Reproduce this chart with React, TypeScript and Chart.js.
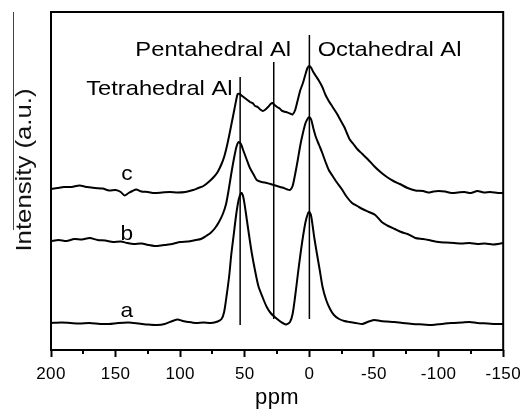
import React, { useEffect, useRef } from 'react';
import { Chart, registerables } from 'chart.js';

Chart.register(...registerables);

// ---- data (ppm = chemical shift, int = intensity in a.u.) ----
const ppmA = [200, 192, 185, 178, 170, 162, 155, 148, 140, 132, 125, 118, 112, 106, 102, 98, 94, 88, 82, 76, 71, 68, 66, 64, 62, 60.5, 58.6, 56.7, 54.8, 53.3, 52.3, 51, 49.5, 48.4, 46.5, 44.6, 42, 39.5, 36, 33, 30, 26.8, 23, 20, 18, 15, 13, 11, 9, 7, 5, 3, 1, 0, -1.5, -3.7, -6, -8, -10.2, -13, -16, -19, -23, -27, -31, -36, -41, -45, -50, -55, -60, -66, -72, -80, -88, -95, -102, -110, -118, -124, -130, -138, -144, -150];
const intA = [27, 27.5, 27, 26.5, 27, 26, 26, 27, 27.5, 26.5, 25.5, 25, 26, 29, 30.5, 29, 28, 27, 27.5, 27, 28.5, 31, 38, 55, 75, 95, 115, 135, 150, 156, 157, 152, 140, 130, 113, 97, 79, 64, 52, 43, 37, 33, 29, 26.5, 25.5, 28, 36, 54, 75, 95, 113, 128, 137, 138, 133, 113, 95, 80, 63, 50, 41, 35, 31, 29, 28, 27, 26, 28, 30, 29, 28.5, 28, 27, 26, 25.5, 25, 26, 27, 27.5, 28, 27, 26.5, 26, 26];

const ppmB = [200, 194, 188, 182, 176, 170, 164, 158, 152, 146, 141, 136, 130, 124, 118, 112, 106, 100, 94, 88, 84, 80, 76.5, 73, 70, 67, 64.5, 62.5, 60.5, 58.6, 56.5, 54.8, 53, 51, 48.4, 46, 43, 40.8, 37, 33, 29, 25, 21, 17, 15, 13, 11, 9, 7, 5, 3, 1, 0, -1.5, -3, -5, -7.5, -10, -12.5, -15, -18, -21, -25, -29, -33, -37, -41, -46, -51, -56, -61, -66, -71, -76, -82, -88, -94, -100, -106, -112, -118, -124, -130, -136, -142, -146, -150];
const intB = [109, 110, 109, 111, 110.5, 112, 110, 109.5, 108, 108.5, 107, 106, 106.5, 105, 104, 105, 106, 108, 108.5, 110, 111, 114, 117, 122, 128, 136, 146, 160, 176, 190, 203, 208, 206, 199, 190, 182, 175, 170, 168, 167, 165.5, 164, 162.5, 160.5, 160, 164, 176, 190, 205, 217, 227, 232, 233, 230, 222, 213, 205, 197, 188, 180, 174, 168, 161, 153, 147, 144, 141, 138, 135, 128, 124, 121, 118, 116, 112, 111, 109.5, 108, 107.5, 107, 106.5, 107, 106, 106.5, 105.5, 106, 107];

const ppmC = [200, 195, 190, 184, 178, 172, 166, 160, 155, 150, 146, 143, 140, 137, 134, 130, 125, 120, 114, 108, 102, 96, 90, 86, 82, 78, 74, 71, 68, 66, 64, 62, 60, 58, 56.5, 55.5, 54, 52, 50, 48, 46, 44, 42, 40, 38, 36, 34, 32, 30, 28.6, 27, 25, 23, 21, 18, 15, 13, 11, 9, 7, 5, 3, 1.5, 0.2, -1.5, -3, -5, -7.5, -10, -12.5, -15, -18, -21, -24, -27, -29, -31, -34, -37, -41, -45, -50, -55, -60, -65, -70, -76, -82, -88, -92, -96, -100, -105, -110, -115, -120, -125, -130, -135, -140, -146, -150];
const intC = [161, 162, 163, 163, 164.5, 163, 162, 161.5, 159.5, 160, 158, 154.5, 157, 159, 160.5, 158.5, 158, 157, 157.5, 158, 157.5, 158, 160, 162, 164, 168, 173, 178, 186, 193, 203, 215, 228, 241, 251, 256, 256, 254, 252, 250, 248, 247, 244, 243, 240.5, 239, 240.5, 243, 246, 247, 245, 243, 241.5, 239, 238, 236.5, 235.5, 240, 250, 260, 267, 276, 282, 284, 282, 278, 274, 269, 263, 255, 249, 243, 237, 230, 223, 217, 211, 206, 201, 196, 191, 184, 178, 173, 169, 166, 162, 159.5, 159, 157.5, 158.5, 159, 158.5, 157, 157.5, 158, 157, 159, 157.5, 158, 157, 157];

const curveNames = ['a', 'b', 'c'];
const curveLabelPpm = [141.3, 141.3, 141.3];
const curveLabelInt = [33, 110, 170];

const markerNames = ['Tetrahedral Al', 'Pentahedral Al', 'Octahedral Al'];
const markerPpm = [53.6, 27.6, 0];
const markerLow = [25, 31, 31];
const markerHigh = [273, 288, 315];
const markerLabelPpm = [172.8, 134.7, -6.4];
const markerLabelInt = [255, 294, 294];

const xMin = -150;
const xMax = 200;
const majorStep = 50;
const minorTicks = [175, 125, 75, 25, -25, -75, -125];

const FONT = '"Liberation Sans", Arial, Helvetica, sans-serif';

const toPoints = (xs: number[], ys: number[]) => xs.map((v, i) => ({ x: v, y: ys[i] }));

function drawWide(ctx: CanvasRenderingContext2D, text: string, x: number, y: number, sx: number, align: CanvasTextAlign) {
  ctx.save();
  ctx.translate(x, y);
  ctx.scale(sx, 1);
  ctx.textAlign = align;
  ctx.fillText(text, 0, 0);
  ctx.restore();
}

export default function App() {
  const ref = useRef<HTMLCanvasElement | null>(null);

  useEffect(() => {
    const canvas = ref.current;
    if (!canvas) return;

    const deco = {
      id: 'deco',
      beforeLayout(chart: any) {
        chart.ctx.letterSpacing = '0.4px';
      },
      beforeDraw(chart: any) {
        chart.ctx.letterSpacing = '0.4px';
      },
      afterDraw(chart: any) {
        const { ctx, chartArea: ca } = chart;
        const x = chart.scales.x;
        const y = chart.scales.y;
        ctx.save();
        ctx.letterSpacing = '0px';
        ctx.strokeStyle = '#000';
        ctx.lineWidth = 2;
        ctx.strokeRect(ca.left, ca.top, ca.right - ca.left, ca.bottom - ca.top);
        for (const v of minorTicks) {
          const px = Math.round(x.getPixelForValue(v));
          ctx.beginPath();
          ctx.moveTo(px, ca.bottom);
          ctx.lineTo(px, ca.bottom + 4);
          ctx.stroke();
        }
        ctx.fillStyle = '#000';
        ctx.font = `21px ${FONT}`;
        ctx.textBaseline = 'alphabetic';
        markerNames.forEach((t, i) => {
          drawWide(ctx, t, x.getPixelForValue(markerLabelPpm[i]), y.getPixelForValue(markerLabelInt[i]), 1.13, 'left');
        });
        curveNames.forEach((t, i) => {
          drawWide(ctx, t, x.getPixelForValue(curveLabelPpm[i]), y.getPixelForValue(curveLabelInt[i]), 1.08, 'center');
        });
        // y axis title
        ctx.save();
        ctx.translate(30.5, 170);
        ctx.rotate(-Math.PI / 2);
        ctx.scale(1.17, 1);
        ctx.font = `22px ${FONT}`;
        ctx.fillStyle = '#111';
        ctx.textAlign = 'center';
        ctx.fillText('Intensity (a.u.)', 0, 0);
        ctx.restore();
        // thin stray rule next to the title
        ctx.strokeStyle = '#444';
        ctx.lineWidth = 1;
        ctx.beginPath();
        ctx.moveTo(13.5, 12);
        ctx.lineTo(13.5, 230);
        ctx.stroke();
        ctx.restore();
      },
    };

    const curveDs = [
      toPoints(ppmA, intA),
      toPoints(ppmB, intB),
      toPoints(ppmC, intC),
    ].map((d, i) => ({
      label: curveNames[i],
      data: d,
      borderColor: '#000',
      borderWidth: 2,
      pointRadius: 0,
      tension: 0.25,
      fill: false,
    }));

    const markerDs = markerPpm.map((p, i) => ({
      label: markerNames[i],
      data: [
        { x: p, y: markerLow[i] },
        { x: p, y: markerHigh[i] },
      ],
      borderColor: '#000',
      borderWidth: 1.5,
      pointRadius: 0,
      tension: 0,
      fill: false,
    }));

    const chart = new Chart(canvas, {
      type: 'line',
      data: { datasets: [...curveDs, ...markerDs] as any },
      options: {
        animation: false,
        responsive: false,
        events: [],
        layout: { padding: { left: 51, right: 18, top: 12, bottom: 0 } },
        plugins: { legend: { display: false }, tooltip: { enabled: false } },
        scales: {
          x: {
            type: 'linear',
            min: xMin,
            max: xMax,
            reverse: true,
            afterFit: (s: any) => {
              s.height = 61;
            },
            border: { display: false },
            grid: {
              drawOnChartArea: false,
              drawTicks: true,
              tickLength: 7,
              tickWidth: 2,
              tickColor: '#000',
            },
            ticks: {
              stepSize: majorStep,
              autoSkip: false,
              maxRotation: 0,
              padding: 7,
              color: '#000',
              font: { family: FONT, size: 17 },
            },
            title: {
              display: true,
              text: 'ppm',
              color: '#000',
              font: { family: FONT, size: 22 },
              padding: { top: 0, bottom: 0 },
            },
          },
          y: { type: 'linear', display: false, min: 0, max: 338 },
        },
      } as any,
      plugins: [deco],
    });

    return () => chart.destroy();
  }, []);

  return (
    <div style={{ position: 'fixed', left: 0, top: 0, width: 528, height: 411, background: '#fff' }}>
      <canvas ref={ref} width={528} height={411} style={{ display: 'block' }} />
    </div>
  );
}
